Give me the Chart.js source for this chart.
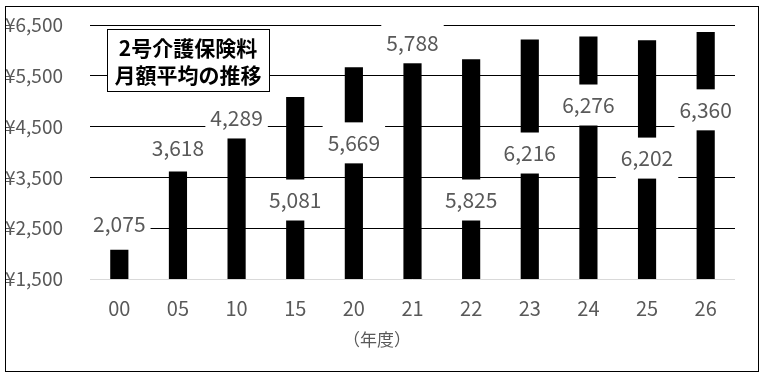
<!DOCTYPE html>
<html>
<head>
<meta charset="utf-8">
<script src="https://cdn.jsdelivr.net/npm/chart.js@4/dist/chart.umd.min.js"></script>
<style>
  html, body { margin: 0; padding: 0; background: #fff; }
  canvas { display: block; }
</style>
</head>
<body>
<canvas id="c" width="765" height="378"></canvas>
<script>
// ---- data ----
const years = ['00', '05', '10', '15', '20', '21', '22', '23', '24', '25', '26'];
const premiums = [2075, 3618, 4289, 5081, 5669, 5788, 5825, 6216, 6276, 6202, 6360];
const yTickValues = [1500, 2500, 3500, 4500, 5500, 6500];
const titleLines = ['2号介護保険料', '月額平均の推移'];
const xAxisNote = '（年度）';

// ---- layout: value at which each data label is centred (as placed in the original) ----
const labelAnchor = [2580, 4080, 4670, 3055, 4180, 6150, 3055, 3980, 4925, 3880, 4830];

const FONT = '"Noto Sans CJK JP", "Noto Sans", sans-serif';
const TEXT_GRAY = '#595959';

const fmt = v => v.toLocaleString('en-US');

const decorPlugin = {
  id: 'decor',
  afterDatasetsDraw(chart) {
    const ctx = chart.ctx;
    const meta = chart.getDatasetMeta(0);
    const yScale = chart.scales.y;
    ctx.save();
    ctx.font = '21px ' + FONT;
    ctx.textAlign = 'center';
    ctx.textBaseline = 'middle';
    meta.data.forEach((bar, i) => {
      const txt = fmt(premiums[i]);
      const cx = bar.x;
      const cy = yScale.getPixelForValue(labelAnchor[i]);
      const w = ctx.measureText(txt).width + 10;
      const h = 41;
      ctx.fillStyle = '#fff';
      ctx.fillRect(cx - w / 2, cy - h / 2, w, h);
      ctx.fillStyle = TEXT_GRAY;
      ctx.fillText(txt, cx, cy);
    });
    ctx.restore();
  },
  afterDraw(chart) {
    const ctx = chart.ctx;
    ctx.save();
    // title box
    ctx.fillStyle = '#fff';
    ctx.fillRect(107, 29, 162, 62);
    ctx.strokeStyle = '#000';
    ctx.lineWidth = 1;
    ctx.strokeRect(107.5, 29.5, 162, 62);
    ctx.fillStyle = '#000';
    ctx.font = 'bold 21px ' + FONT;
    ctx.textAlign = 'center';
    ctx.textBaseline = 'middle';
    ctx.fillText(titleLines[0], 188, 48);
    ctx.fillText(titleLines[1], 188, 75);
    // axis note
    ctx.fillStyle = TEXT_GRAY;
    ctx.font = '17px ' + FONT;
    ctx.fillText(xAxisNote, 377, 340);
    // outer border
    ctx.strokeStyle = '#000';
    ctx.strokeRect(5.5, 6.5, 753, 365);
    ctx.restore();
  }
};

new Chart(document.getElementById('c'), {
  type: 'bar',
  data: {
    labels: years,
    datasets: [{
      data: premiums,
      backgroundColor: '#000',
      borderWidth: 0,
      categoryPercentage: 1,
      barPercentage: 0.31
    }]
  },
  options: {
    responsive: false,
    devicePixelRatio: 1,
    animation: false,
    layout: { padding: { left: 0, right: 30, top: 25, bottom: 0 } },
    plugins: { legend: { display: false }, tooltip: { enabled: false }, title: { display: false } },
    scales: {
      x: {
        grid: { display: false, drawTicks: false },
        border: { display: false },
        ticks: { color: TEXT_GRAY, font: { family: FONT, size: 20 }, padding: 17, maxRotation: 0 },
        afterFit(s) { s.height = 99; }
      },
      y: {
        min: 1500,
        max: 6500,
        afterBuildTicks(s) { s.ticks = yTickValues.map(v => ({ value: v })); },
        grid: {
          drawTicks: false,
          color: c => (c.tick && c.tick.value === 1500) ? '#d9d9d9' : '#000',
          lineWidth: 1
        },
        border: { display: false },
        ticks: {
          color: TEXT_GRAY,
          font: { family: FONT, size: 19 },
          padding: 27,
          callback: v => '¥' + fmt(v)
        },
        afterFit(s) { s.width = 90; s.paddingTop = 0; s.paddingBottom = 0; }
      }
    }
  },
  plugins: [decorPlugin]
});
</script>
</body>
</html>
